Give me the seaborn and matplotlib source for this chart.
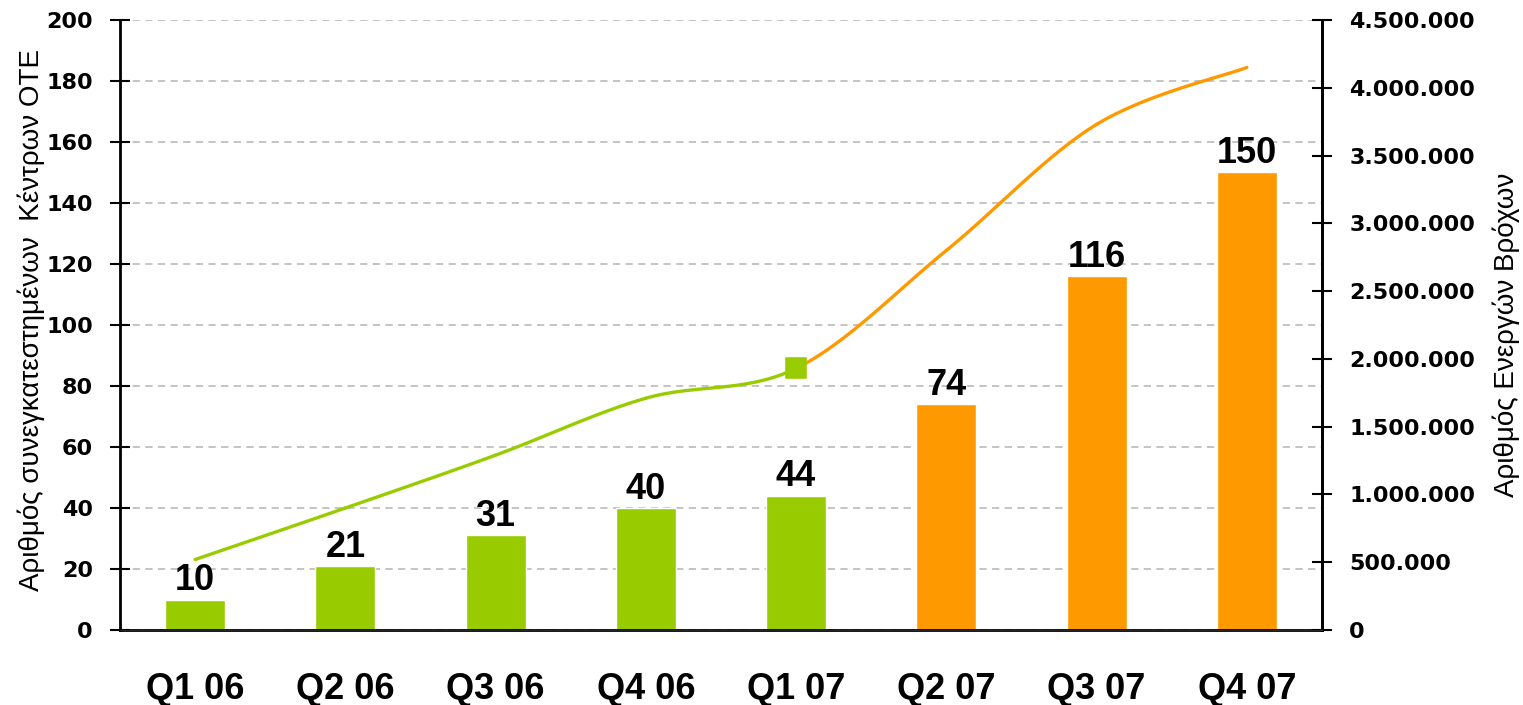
import numpy as np
import pandas as pd
import matplotlib
matplotlib.use("Agg")
import matplotlib.pyplot as plt
import matplotlib.ticker as mticker
import seaborn as sns

quarters = ["Q1 06", "Q2 06", "Q3 06", "Q4 06", "Q1 07", "Q2 07", "Q3 07", "Q4 07"]
centres = [10, 21, 31, 40, 44, 74, 116, 150]
loops = [520000, 900000, 1290000, 1710000, 1930000, 2800000, 3730000, 4150000]
phase = ["a", "a", "a", "a", "a", "b", "b", "b"]
left_label = "Αριθμός συνεγκατεστημένων  Κέντρων ΟΤΕ"
right_label = "Αριθμός Ενεργών Βρόχων"

GREEN = "#99CC00"
ORANGE = "#FF9900"

sns.set_style("white")
plt.rcParams["font.family"] = ["Liberation Sans", "DejaVu Sans"]
plt.rcParams["text.color"] = "black"
plt.rcParams["xtick.color"] = "black"
plt.rcParams["ytick.color"] = "black"
plt.rcParams["axes.labelcolor"] = "black"

df = pd.DataFrame({"q": quarters, "c": centres, "p": phase})

fig = plt.figure(figsize=(15.23, 7.05), dpi=100)
ax = fig.add_axes([120 / 1523, 1 - 630 / 705, 1202 / 1523, 610 / 705])

sns.barplot(data=df, x="q", y="c", hue="p", palette={"a": GREEN, "b": ORANGE},
            dodge=False, width=0.4, legend=False, saturation=1, ax=ax)

for cont in ax.containers:
    labels = [f"{v:.0f}" if not np.isnan(v) else "" for v in cont.datavalues]
    ax.bar_label(cont, labels=labels, padding=1, fontsize=26, fontweight="bold", color="black")

ax.set_xlim(-0.5, len(quarters) - 0.5)
ax.set_ylim(0, 200)
ax.yaxis.set_major_locator(mticker.MultipleLocator(20))
ax.set_axisbelow(True)
ax.grid(axis="y", color="#BFBFBF", linestyle=(0, (4, 3)), linewidth=1.3)
ax.grid(axis="x", visible=False)

ax.set_xticks(range(len(quarters)))
ax.set_xticklabels(quarters, fontsize=26, fontweight="bold", color="black")
ax.set_xticks(np.arange(-0.5, len(quarters), 1.0), minor=True)
ax.tick_params(axis="x", which="major", length=0, pad=30)
ax.tick_params(axis="x", which="minor", direction="inout", length=16, width=1.5, color="black")
ax.tick_params(axis="y", direction="inout", length=15, width=1.5, color="black",
               labelsize=16, pad=12, labelcolor="black")
for lab in ax.get_yticklabels():
    lab.set_fontweight("bold")
    lab.set_family("DejaVu Sans")
ax.set_xlabel("")
ax.set_ylabel(left_label, fontsize=20, color="black")
ax.yaxis.set_label_coords((45 - 120) / 1202, (630 - 320) / 610)

ax.spines["top"].set_visible(False)
for s in ["left", "bottom", "right"]:
    ax.spines[s].set_color("black")
    ax.spines[s].set_linewidth(2)

ax2 = ax.twinx()
ax2.set_ylim(0, 4500000)
ax2.yaxis.set_major_locator(mticker.MultipleLocator(500000))
ax2.yaxis.set_major_formatter(mticker.FuncFormatter(lambda v, p: f"{int(v):,}".replace(",", ".")))
ax2.tick_params(axis="y", direction="inout", length=15, width=1.5, color="black",
                labelsize=16, pad=12, labelcolor="black")
for lab in ax2.get_yticklabels():
    lab.set_fontweight("bold")
    lab.set_family("DejaVu Sans")
ax2.set_ylabel(right_label, fontsize=20, color="black")
ax2.yaxis.set_label_coords((1492 - 120) / 1202, (630 - 335) / 610)
ax2.spines["top"].set_visible(False)
ax2.spines["right"].set_color("black")
ax2.spines["right"].set_linewidth(2)
ax2.spines["left"].set_visible(False)
ax2.grid(False)

# smoothed line (Bezier smoothing like spreadsheet charts) through the data points
xs = np.arange(len(loops), dtype=float)
ys = np.array(loops, dtype=float)


def smooth_segment(i, n=40):
    p0 = np.array([xs[max(i - 1, 0)], ys[max(i - 1, 0)]])
    p1 = np.array([xs[i], ys[i]])
    p2 = np.array([xs[i + 1], ys[i + 1]])
    p3 = np.array([xs[min(i + 2, len(xs) - 1)], ys[min(i + 2, len(xs) - 1)]])
    c1 = p1 + (p2 - p0) / 6
    c2 = p2 - (p3 - p1) / 6
    t = np.linspace(0, 1, n)[:, None]
    pts = ((1 - t) ** 3) * p1 + 3 * ((1 - t) ** 2) * t * c1 + 3 * (1 - t) * t ** 2 * c2 + t ** 3 * p2
    return pts


split = 4
for i in range(len(xs) - 1):
    pts = smooth_segment(i)
    col = GREEN if i < split else ORANGE
    ax2.plot(pts[:, 0], pts[:, 1], color=col, linewidth=2.4, solid_capstyle="round", zorder=3)

sns.scatterplot(x=[xs[split]], y=[ys[split]], marker="s", s=210, color=GREEN,
                edgecolor=GREEN, ax=ax2, zorder=4, legend=False)
ax2.set_xlim(-0.5, len(quarters) - 0.5)

fig.savefig("out.png", dpi=100)
